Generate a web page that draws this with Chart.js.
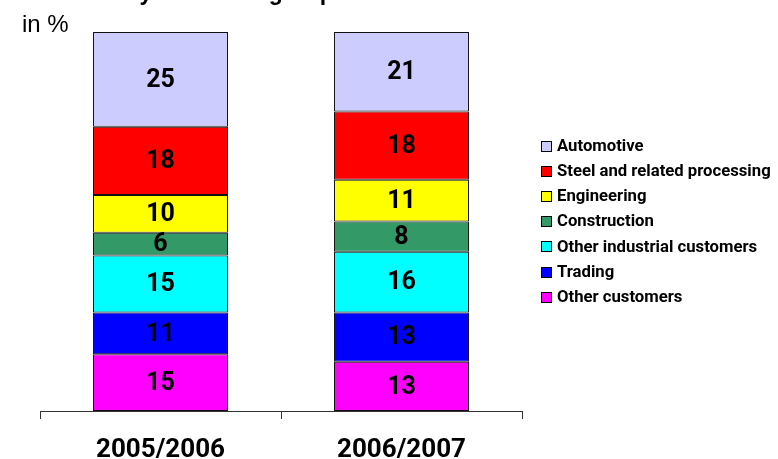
<!DOCTYPE html>
<html>
<head>
<meta charset="utf-8">
<script src="https://cdn.jsdelivr.net/npm/chart.js@4/dist/chart.umd.min.js"></script>
<style>
html,body{margin:0;padding:0;background:#fff;}
#wrap{width:778px;height:459px;position:relative;}
</style>
</head>
<body>
<div id="wrap"><canvas id="c" width="778" height="459"></canvas></div>
<script>
const categories = ['2005/2006', '2006/2007'];
const seriesNames = ['Automotive', 'Steel and related processing', 'Engineering', 'Construction', 'Other industrial customers', 'Trading', 'Other customers'];
const automotive = [25, 21];
const steel = [18, 18];
const engineering = [10, 11];
const construction = [6, 8];
const otherIndustrial = [15, 16];
const trading = [11, 13];
const otherCustomers = [15, 13];
const seriesColors = ['#CCCCFF', '#FF0000', '#FFFF00', '#339966', '#00FFFF', '#0000FF', '#FF00FF'];
const titleText = 'Sales by customer groups';
const unitText = 'in %';

const seriesValues = [automotive, steel, engineering, construction, otherIndustrial, trading, otherCustomers];

// stack bottom-to-top: reverse of legend order
const datasets = seriesNames.map((n, i) => ({
  label: n,
  data: seriesValues[i],
  backgroundColor: seriesColors[i],
  borderColor: '#111',
  borderWidth: 1,
  borderSkipped: false,
  categoryPercentage: 1,
  barPercentage: 0.56
})).reverse();

const labelPlugin = {
  id: 'labels',
  afterDatasetsDraw(chart) {
    const ctx = chart.ctx;
    ctx.save();
    ctx.fillStyle = '#000';
    ctx.font = 'bold 25px Roboto';
    ctx.textAlign = 'center';
    ctx.textBaseline = 'middle';
    chart.data.datasets.forEach((ds, di) => {
      const meta = chart.getDatasetMeta(di);
      meta.data.forEach((bar, j) => {
        const y = (bar.y + bar.base) / 2;
        ctx.fillText(String(ds.data[j]), bar.x, y + 1);
      });
    });
    ctx.restore();
  }
};

const decorPlugin = {
  id: 'decor',
  afterDraw(chart) {
    const ctx = chart.ctx;
    ctx.save();
    ctx.fillStyle = '#000';
    ctx.textAlign = 'left';
    ctx.textBaseline = 'alphabetic';
    ctx.font = 'bold 23px "Liberation Sans"';
    ctx.fillText(titleText, 59, 0);
    ctx.font = '24px "Liberation Sans"';
    ctx.fillText(unitText, 22, 32);
    // legend
    ctx.font = 'bold 16.7px Roboto';
    ctx.textBaseline = 'middle';
    const y0 = 146, step = 25.1;
    seriesNames.forEach((n, i) => {
      const y = y0 + i * step;
      const by = Math.round(y - 5) + 0.5;
      ctx.fillStyle = seriesColors[i];
      ctx.fillRect(541.5, by, 10, 10);
      ctx.strokeStyle = '#000';
      ctx.lineWidth = 1;
      ctx.strokeRect(541.5, by, 10, 10);
      ctx.fillStyle = '#000';
      ctx.fillText(n, 557, y + 1);
    });
    ctx.restore();
  }
};

new Chart(document.getElementById('c'), {
  type: 'bar',
  data: { labels: categories, datasets },
  options: {
    responsive: false,
    animation: false,
    layout: { padding: { left: 40, right: 256, top: 32, bottom: 0 } },
    plugins: { legend: { display: false }, tooltip: { enabled: false }, title: { display: false } },
    scales: {
      x: {
        stacked: true,
        offset: true,
        grid: { display: true, offset: true, drawOnChartArea: false, drawTicks: true, tickLength: 8, color: '#333', lineWidth: 1 },
        border: { display: true, color: '#333', width: 1 },
        ticks: { color: '#000', font: { family: 'Roboto', weight: 'bold', size: 26 }, padding: 16 },
        afterFit(scale) { scale.height = 48; }
      },
      y: {
        stacked: true,
        display: false,
        min: 0,
        max: 100
      }
    }
  },
  plugins: [labelPlugin, decorPlugin]
});
</script>
</body>
</html>
